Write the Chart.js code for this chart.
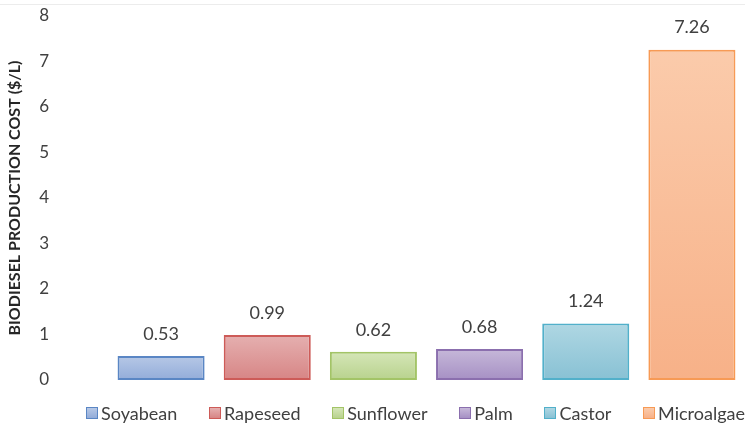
<!DOCTYPE html>
<html>
<head>
<meta charset="utf-8">
<script src="https://cdn.jsdelivr.net/npm/chart.js@4/dist/chart.umd.min.js"></script>
<style>
  html, body { margin: 0; padding: 0; background: #fff; }
  #wrap { position: relative; width: 745px; height: 433px; }
  #topRule { position: absolute; left: 0; right: 0; top: 4px; height: 1px; background: #ececec; }
  #costChart { position: absolute; left: 0; top: 0; }
  #legend {
    position: absolute; left: 86px; right: 0; top: 402px;
    display: flex; justify-content: space-between; align-items: center;
    font: 18px Lato, "Open Sans", sans-serif; color: #404040; line-height: 22px;
  }
  #legend .item { display: flex; align-items: center; white-space: nowrap; }
  #legend .box { width: 10px; height: 10px; margin-right: 3px; border: 1px solid; }
</style>
</head>
<body>
<div id="wrap">
  <div id="topRule"></div>
  <canvas id="costChart" width="745" height="433"></canvas>
  <div id="legend"></div>
</div>
<script>
// biodiesel production cost per feedstock, $/L
const feedstocks = ['Soyabean', 'Rapeseed', 'Sunflower', 'Palm', 'Castor', 'Microalgae'];
const costs = [0.53, 0.99, 0.62, 0.68, 1.24, 7.26];
const yTicks = [0, 1, 2, 3, 4, 5, 6, 7, 8];

// light top / darker bottom of each bar, plus outline
const fillTop = ['#b6c8e6', '#e5b0b0', '#d5e6b8', '#c6b8d9', '#afd7e3', '#fbcbab'];
const fillBottom = ['#93acd9', '#d78585', '#b8d28d', '#a690c4', '#88c1d4', '#f7b188'];
const outlines = ['#5a86c4', '#cd5b58', '#a3c467', '#8b6fae', '#52b0ca', '#f79a55'];

const FONT = 'Lato, "Open Sans", sans-serif';
const ctx = document.getElementById('costChart').getContext('2d');

function barGradient(context, i) {
  const chart = context.chart;
  const y = chart.scales.y;
  if (!chart.chartArea || !y || context.raw == null) return fillBottom[i];
  const top = y.getPixelForValue(context.raw);
  const bottom = y.getPixelForValue(0);
  const g = chart.ctx.createLinearGradient(0, top, 0, bottom);
  g.addColorStop(0, fillTop[i]);
  g.addColorStop(1, fillBottom[i]);
  return g;
}

// one dataset per feedstock so every bar gets its own colour
const datasets = feedstocks.map((name, i) => ({
  label: name,
  data: costs.map((v, j) => (j === i ? v : null)),
  backgroundColor: (c) => barGradient(c, i),
  borderColor: outlines[i],
  borderWidth: 2,
  borderSkipped: false
}));

// value printed above each bar
const valueLabels = {
  id: 'valueLabels',
  afterDatasetsDraw(chart) {
    const c = chart.ctx;
    c.save();
    c.font = '18px ' + FONT;
    c.fillStyle = '#404040';
    c.textAlign = 'center';
    c.textBaseline = 'middle';
    chart.data.datasets.forEach((ds, i) => {
      const meta = chart.getDatasetMeta(i);
      meta.data.forEach((bar, j) => {
        const v = ds.data[j];
        if (v == null) return;
        c.fillText(v.toFixed(2), bar.x, bar.y - 22);
      });
    });
    c.restore();
  }
};

new Chart(ctx, {
  type: 'bar',
  data: { labels: feedstocks, datasets },
  plugins: [valueLabels],
  options: {
    responsive: false,
    animation: false,
    layout: { padding: { top: 16, right: 0, bottom: 53, left: 0 } },
    plugins: {
      legend: { display: false },
      tooltip: { enabled: false }
    },
    datasets: {
      bar: { categoryPercentage: 0.82, barPercentage: 1 }
    },
    scales: {
      x: {
        stacked: true,
        display: false
      },
      y: {
        min: 0,
        max: 8,
        afterBuildTicks: (scale) => { scale.ticks = yTicks.map((v) => ({ value: v })); },
        // wide gap between the numbers and the bars, without the extra top/bottom room
        afterFit: (scale) => {
          scale.width = 108;
          scale.paddingTop = 8;
          scale.paddingBottom = 8;
        },
        grid: { display: false, drawTicks: false },
        border: { display: false },
        ticks: {
          padding: 59,
          color: '#404040',
          font: { family: FONT, size: 17 }
        },
        title: {
          display: true,
          text: 'BIODIESEL PRODUCTION COST ($/L)',
          color: '#262626',
          font: { family: FONT, size: 16, weight: 'bold' },
          padding: { top: 5, bottom: 10 }
        }
      }
    }
  }
});

// legend row under the plot
const legend = document.getElementById('legend');
feedstocks.forEach((name, i) => {
  const item = document.createElement('div');
  item.className = 'item';
  const box = document.createElement('span');
  box.className = 'box';
  box.style.background = `linear-gradient(${fillTop[i]}, ${fillBottom[i]})`;
  box.style.borderColor = outlines[i];
  const label = document.createElement('span');
  label.textContent = name;
  item.appendChild(box);
  item.appendChild(label);
  legend.appendChild(item);
});
</script>
</body>
</html>
